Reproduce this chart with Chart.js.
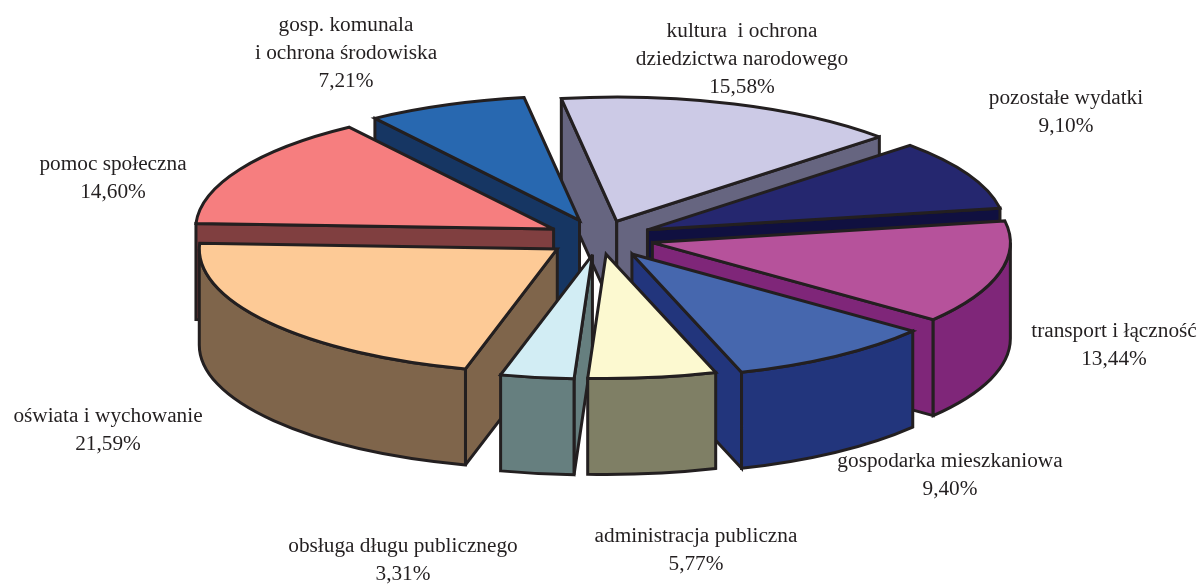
<!DOCTYPE html>
<html lang="pl">
<head>
<meta charset="utf-8">
<title>Wydatki</title>
<script src="https://cdn.jsdelivr.net/npm/chart.js@4"></script>
<style>
    html, body { margin: 0; padding: 0; background: #fff; }
    canvas { display: block; }
</style>
</head>
<body>
<canvas id="pieChart" width="1203" height="585"></canvas>
<script>
// Dane
const categories = [
    ['kultura  i ochrona', 'dziedzictwa narodowego'],
    ['pozostałe wydatki'],
    ['transport i łączność'],
    ['gospodarka mieszkaniowa'],
    ['administracja publiczna'],
    ['obsługa długu publicznego'],
    ['oświata i wychowanie'],
    ['pomoc społeczna'],
    ['gosp. komunala', 'i ochrona środowiska']
];
const shares = [15.58, 9.10, 13.44, 9.40, 5.77, 3.31, 21.59, 14.60, 7.21];

// Kolory: wierzch i bok każdego wycinka
const topColors = ['#cccae6', '#25276f', '#b6529b', '#4667ae', '#fcf9d0', '#d2edf4', '#fdca96', '#f67e7f', '#2868b0'];
const wallColors = ['#666580', '#101040', '#7f2679', '#22357c', '#7f7f65', '#667f7f', '#7f654b', '#803f40', '#163663'];
const explode = [51, 53, 54, 56, 47, 49, 53, 53, 55];

// Środek tekstu etykiety (x) i wysokość linii bazowej pierwszego wiersza (y)
const labelSpots = [
    [742, 37], [1066, 104], [1114, 337], [950, 467], [696, 542], [403, 552], [108, 422], [113, 170], [346, 31]
];

const SQUASH = 0.347;
const DEPTH = 96;
const RADIUS = 358;
const LINE_HEIGHT = 28;
const INK = '#231f20';

// Rysuje jedną ścianę: wypełnienie i obrys
function paintFace(ctx, color, buildPath) {
    ctx.beginPath();
    buildPath();
    ctx.closePath();
    ctx.fillStyle = color;
    ctx.fill();
    ctx.stroke();
}

// Rysuje wycinek jako bryłę na podstawie elementu łuku z Chart.js
function drawSlice(ctx, arc, index) {
    const mid = (arc.startAngle + arc.endAngle) / 2;
    const off = arc.options.offset;
    const cx = arc.x + Math.cos(mid) * off;
    const cy = arc.y + Math.sin(mid) * off * SQUASH;
    const r = arc.outerRadius;
    const ry = r * SQUASH;
    const edgeX = a => cx + Math.cos(a) * r;
    const edgeY = a => cy + Math.sin(a) * ry;

    // Ściany promieniowe, tylko te zwrócone do widza
    const cuts = [];
    if (Math.cos(arc.startAngle) < 0) cuts.push(arc.startAngle);
    if (Math.cos(arc.endAngle) > 0) cuts.push(arc.endAngle);
    cuts.forEach(a => {
        paintFace(ctx, wallColors[index], () => {
            ctx.moveTo(cx, cy);
            ctx.lineTo(edgeX(a), edgeY(a));
            ctx.lineTo(edgeX(a), edgeY(a) + DEPTH);
            ctx.lineTo(cx, cy + DEPTH);
        });
    });

    // Ściana zewnętrzna, tylko część zwrócona do widza
    for (const turn of [0, Math.PI * 2, -Math.PI * 2]) {
        const from = Math.max(arc.startAngle, turn);
        const to = Math.min(arc.endAngle, turn + Math.PI);
        if (to <= from) continue;
        paintFace(ctx, wallColors[index], () => {
            ctx.ellipse(cx, cy, r, ry, 0, from, to);
            ctx.ellipse(cx, cy + DEPTH, r, ry, 0, to, from, true);
        });
    }

    // Wierzch
    paintFace(ctx, topColors[index], () => {
        ctx.moveTo(cx, cy);
        ctx.ellipse(cx, cy, r, ry, 0, arc.startAngle, arc.endAngle);
    });
}

function drawLabels(ctx) {
    ctx.fillStyle = INK;
    ctx.font = '21.3px "Liberation Serif"';
    ctx.textAlign = 'center';
    ctx.textBaseline = 'alphabetic';
    categories.forEach((lines, i) => {
        const [x, y] = labelSpots[i];
        const rows = lines.concat(shares[i].toFixed(2).replace('.', ',') + '%');
        rows.forEach((row, n) => ctx.fillText(row, x, y + n * LINE_HEIGHT));
    });
}

// Chart.js liczy kąty wycinków, a ta wtyczka rysuje je spłaszczone i z grubością
const pie3d = {
    id: 'pie3d',
    beforeDatasetsDraw(chart) {
        const ctx = chart.ctx;
        const arcs = chart.getDatasetMeta(0).data;
        const order = arcs.map((arc, i) => i).sort((a, b) =>
            Math.sin((arcs[a].startAngle + arcs[a].endAngle) / 2) -
            Math.sin((arcs[b].startAngle + arcs[b].endAngle) / 2));
        ctx.save();
        ctx.strokeStyle = INK;
        ctx.lineWidth = 3;
        ctx.lineJoin = 'miter';
        ctx.miterLimit = 3;
        order.forEach(i => drawSlice(ctx, arcs[i], i));
        drawLabels(ctx);
        ctx.restore();
        return false;
    }
};

new Chart(document.getElementById('pieChart').getContext('2d'), {
    type: 'pie',
    data: {
        labels: categories.map(lines => lines.join(' ')),
        datasets: [{
            data: shares,
            backgroundColor: topColors,
            offset: explode
        }]
    },
    options: {
        responsive: false,
        animation: false,
        radius: RADIUS,
        rotation: -8.9,
        layout: { padding: { right: 3, bottom: 109 } },
        plugins: {
            legend: { display: false },
            tooltip: { enabled: false }
        }
    },
    plugins: [pie3d]
});
</script>
</body>
</html>
